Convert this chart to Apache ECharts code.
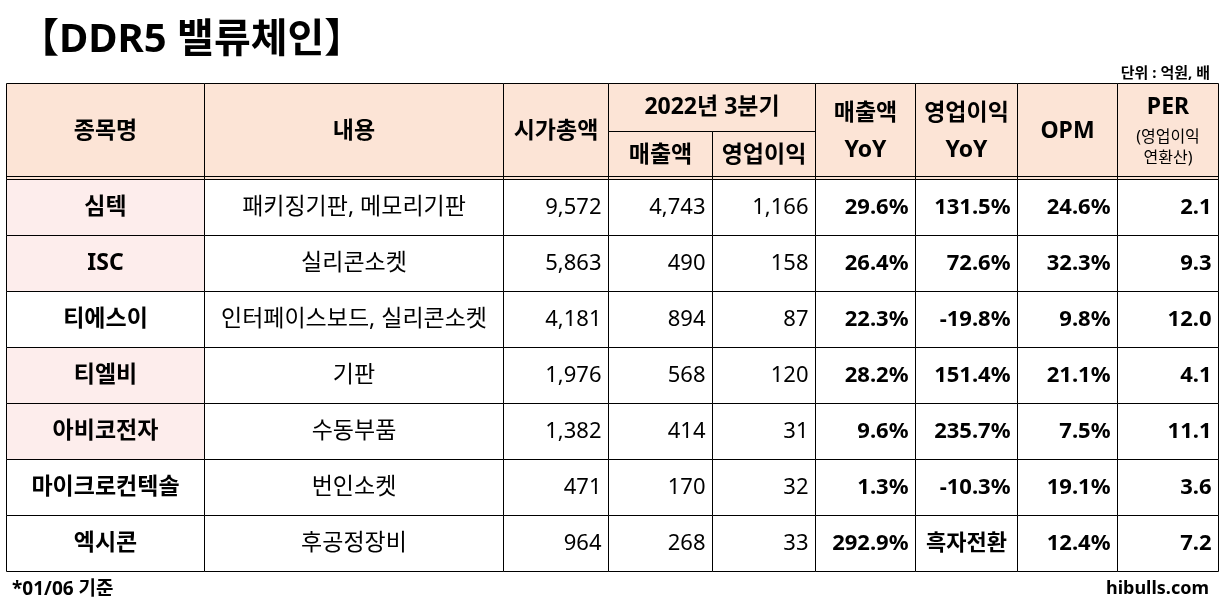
<!DOCTYPE html>
<html>
<head>
<meta charset="utf-8">
<script src="https://cdn.jsdelivr.net/npm/echarts@6/dist/echarts.min.js"></script>
<style>
  html, body { margin: 0; padding: 0; background: #fff; }
  #main { width: 1224px; height: 604px; }
</style>
</head>
<body>
<div id="main"></div>
<script>
// 표 데이터
const names = ['심텍', 'ISC', '티에스이', '티엘비', '아비코전자', '마이크로컨텍솔', '엑시콘'];
const descs = ['패키징기판, 메모리기판', '실리콘소켓', '인터페이스보드, 실리콘소켓', '기판', '수동부품', '번인소켓', '후공정장비'];
const marketCap = [9572, 5863, 4181, 1976, 1382, 471, 964];
const sales = [4743, 490, 894, 568, 414, 170, 268];
const opProfit = [1166, 158, 87, 120, 31, 32, 33];
const salesYoY = [29.6, 26.4, 22.3, 28.2, 9.6, 1.3, 292.9];
const opYoY = [131.5, 72.6, -19.8, 151.4, 235.7, -10.3, '흑자전환'];
const opm = [24.6, 32.3, 9.8, 21.1, 7.5, 19.1, 12.4];
const per = [2.1, 9.3, 12.0, 4.1, 11.1, 3.6, 7.2];

// 레이아웃 (px 단위 폭/높이)
const colWidths = [198, 299, 105, 104, 103, 100, 102, 100, 101];
const headerRowHeights = [48, 48];
const dataRowHeight = 56;
const pinkNames = ['심텍', 'ISC', '티엘비', '아비코전자'];

const FONT = "'Noto Sans', 'Noto Sans CJK KR', sans-serif";
const HEADER_BG = '#FCE4D6';
const PINK_BG = '#FDEDEC';

const colEdges = [0];
colWidths.forEach(w => colEdges.push(colEdges[colEdges.length - 1] + w));
const rowEdges = [0];
headerRowHeights.forEach(h => rowEdges.push(rowEdges[rowEdges.length - 1] + h));
names.forEach(() => rowEdges.push(rowEdges[rowEdges.length - 1] + dataRowHeight));

const bold = s => 'bold ' + s + 'px ' + FONT;
const normal = s => s + 'px ' + FONT;
const comma = v => v.toLocaleString('en-US');
const pct = v => typeof v === 'number' ? v.toFixed(1) + '%' : v;

const cells = [];
function hdr(c0, c1, r0, r1, text, extra) {
  cells.push(Object.assign({ c0, c1, r0, r1, text, bg: HEADER_BG, font: bold(23), align: 'center' }, extra));
}
hdr(0, 1, 0, 2, '종목명');
hdr(1, 2, 0, 2, '내용');
hdr(2, 3, 0, 2, '시가총액');
hdr(3, 5, 0, 1, '2022년 3분기');
hdr(3, 4, 1, 2, '매출액');
hdr(4, 5, 1, 2, '영업이익');
hdr(5, 6, 0, 2, '매출액\nYoY', { lineHeight: 37 });
hdr(6, 7, 0, 2, '영업이익\nYoY', { lineHeight: 37 });
hdr(7, 8, 0, 2, 'OPM');
hdr(8, 9, 0, 2, '{a|PER}\n{s|(영업이익}\n{s|연환산)}', {
  dy: -3,
  rich: {
    a: { font: bold(23), lineHeight: 38 },
    s: { font: normal(16), lineHeight: 21 }
  }
});

names.forEach((n, i) => {
  const r = 2 + i;
  const row = (c, text, font, align) => cells.push({ c0: c, c1: c + 1, r0: r, r1: r + 1, text, font, align,
    bg: c === 0 && pinkNames.indexOf(n) >= 0 ? PINK_BG : '#fff' });
  row(0, n, bold(23), 'center');
  row(1, descs[i], normal(23), 'center');
  row(2, comma(marketCap[i]), normal(22), 'right');
  row(3, comma(sales[i]), normal(22), 'right');
  row(4, comma(opProfit[i]), normal(22), 'right');
  row(5, pct(salesYoY[i]), bold(22), 'right');
  row(6, pct(opYoY[i]), bold(22), typeof opYoY[i] === 'number' ? 'right' : 'center');
  row(7, pct(opm[i]), bold(22), 'right');
  row(8, per[i].toFixed(1), bold(22), 'right');
});

function renderItem(params, api) {
  const cell = cells[params.dataIndex];
  const p0 = api.coord([api.value(0), api.value(1)]);
  const p1 = api.coord([api.value(2), api.value(3)]);
  const x0 = Math.round(p0[0]) + 0.5, y0 = Math.round(p0[1]) + 0.5;
  const x1 = Math.round(p1[0]) + 0.5, y1 = Math.round(p1[1]) + 0.5;
  const children = [{
    type: 'rect',
    shape: { x: x0, y: y0, width: x1 - x0, height: y1 - y0 },
    style: { fill: cell.bg, stroke: '#000', lineWidth: 1 }
  }];
  if (cell.r1 === 2) {
    children.push({
      type: 'line',
      shape: { x1: x0, y1: y1 - 3, x2: x1, y2: y1 - 3 },
      style: { stroke: '#000', lineWidth: 1 }
    });
  }
  const tx = cell.align === 'right' ? x1 - 7 : (x0 + x1) / 2;
  const style = {
    text: cell.text, x: tx, y: (y0 + y1) / 2 + (cell.dy || 0),
    align: cell.align, verticalAlign: 'middle',
    font: cell.font, fill: '#000'
  };
  if (cell.lineHeight) style.lineHeight = cell.lineHeight;
  if (cell.rich) style.rich = cell.rich;
  children.push({ type: 'text', style });
  return { type: 'group', children };
}

const chart = echarts.init(document.getElementById('main'));
chart.setOption({
  animation: false,
  title: [
    { text: '【DDR5 밸류체인】', left: 14, top: 16,
      textStyle: { fontFamily: FONT, fontSize: 40, fontWeight: 'bold', color: '#000' } },
    { text: '단위 : 억원, 배', right: 9, top: 61,
      textStyle: { fontFamily: FONT, fontSize: 15, fontWeight: 'bold', color: '#000' } },
    { text: '*01/06 기준', left: 7, top: 575,
      textStyle: { fontFamily: FONT, fontSize: 19, fontWeight: 'bold', color: '#000' } },
    { text: 'hibulls.com', right: 10, top: 575,
      textStyle: { fontFamily: FONT, fontSize: 18, fontWeight: 'bold', color: '#000' } }
  ],
  grid: { left: 6, right: 6, top: 83, bottom: 33 },
  xAxis: { type: 'value', min: 0, max: colEdges[colEdges.length - 1], show: false },
  yAxis: { type: 'value', min: 0, max: rowEdges[rowEdges.length - 1], inverse: true, show: false },
  series: [{
    type: 'custom',
    clip: false,
    renderItem,
    encode: { x: [0, 2], y: [1, 3] },
    data: cells.map(c => [colEdges[c.c0], rowEdges[c.r0], colEdges[c.c1], rowEdges[c.r1]])
  }]
});
</script>
</body>
</html>
